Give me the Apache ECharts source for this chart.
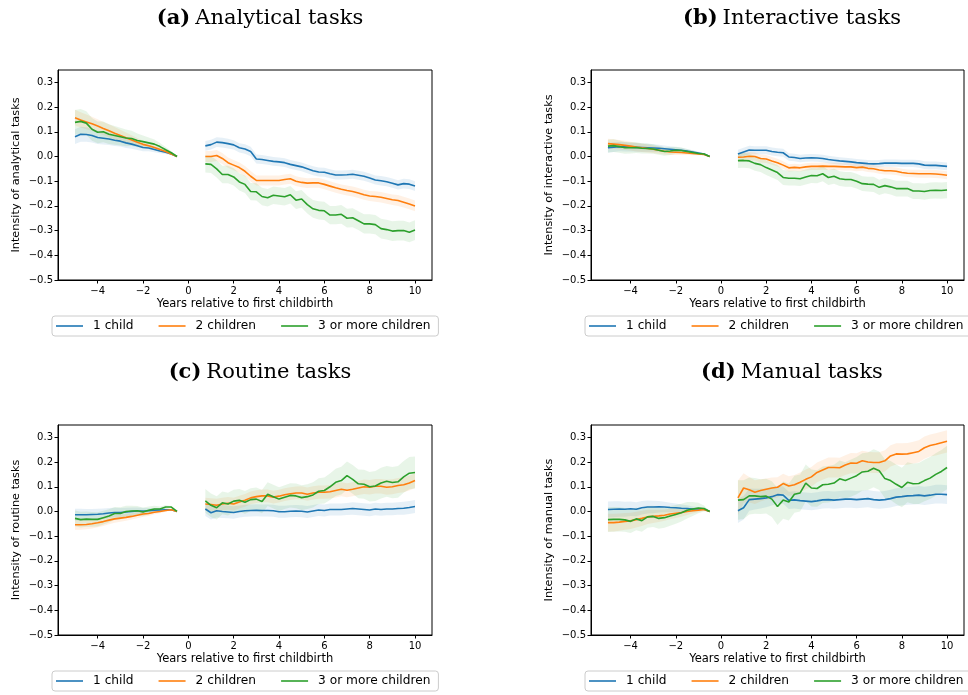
<!DOCTYPE html>
<html><head><meta charset="utf-8">
<script src="https://cdn.jsdelivr.net/npm/echarts@6/dist/echarts.min.js"></script>
<style>html,body{margin:0;padding:0;background:#fff}#c{width:968px;height:695px}</style>
</head><body><div id="c"></div><script>
// ---------- x positions (years relative to first childbirth) ----------
const xPre = [-5,-4.75,-4.5,-4.25,-4,-3.75,-3.5,-3.25,-3,-2.75,-2.5,-2.25,-2,-1.75,-1.5,-1.25,-1,-0.75,-0.5];
const xPost = [0.75,1,1.25,1.5,1.75,2,2.25,2.5,2.75,3,3.25,3.5,3.75,4,4.25,4.5,4.75,5,5.25,5.5,5.75,6,6.25,6.5,6.75,7,7.25,7.5,7.75,8,8.25,8.5,8.75,9,9.25,9.5,9.75,10];

const seriesNames = ['1 child', '2 children', '3 or more children'];
const colors = ['#1f77b4', '#ff7f0e', '#2ca02c'];
const panelLetters = ['(a)', '(b)', '(c)', '(d)'];
const panelTitles = ['Analytical tasks', 'Interactive tasks', 'Routine tasks', 'Manual tasks'];
const yNames = ['Intensity of analytical tasks', 'Intensity of interactive tasks', 'Intensity of routine tasks', 'Intensity of manual tasks'];
const xName = 'Years relative to first childbirth';
const xTicks = [-4,-2,0,2,4,6,8,10];
const yTicks = [-0.5,-0.4,-0.3,-0.2,-0.1,0,0.1,0.2,0.3];

// ---------- (a) Analytical ----------
const aPre1 = [0.08,0.09,0.089,0.085,0.077,0.074,0.071,0.066,0.062,0.055,0.05,0.043,0.036,0.034,0.028,0.022,0.017,0.01,0];
const aPre2 = [0.157,0.148,0.14,0.132,0.123,0.113,0.104,0.094,0.085,0.076,0.067,0.058,0.049,0.043,0.036,0.028,0.02,0.01,0];
const aPre3 = [0.138,0.142,0.135,0.11,0.098,0.1,0.09,0.085,0.08,0.075,0.073,0.065,0.06,0.055,0.05,0.04,0.027,0.015,0];
const aPost1 = [0.043,0.048,0.058,0.056,0.052,0.047,0.035,0.03,0.02,-0.01,-0.012,-0.016,-0.02,-0.022,-0.025,-0.032,-0.037,-0.042,-0.05,-0.058,-0.063,-0.064,-0.07,-0.075,-0.075,-0.074,-0.072,-0.076,-0.08,-0.087,-0.095,-0.098,-0.102,-0.108,-0.115,-0.11,-0.112,-0.12];
const aPost2 = [0,0,0.004,-0.008,-0.025,-0.035,-0.045,-0.06,-0.08,-0.097,-0.097,-0.097,-0.097,-0.097,-0.093,-0.09,-0.1,-0.105,-0.108,-0.107,-0.107,-0.113,-0.12,-0.127,-0.133,-0.138,-0.142,-0.148,-0.155,-0.16,-0.162,-0.165,-0.17,-0.175,-0.178,-0.185,-0.192,-0.2];
const aPost3 = [-0.03,-0.032,-0.05,-0.073,-0.073,-0.083,-0.103,-0.113,-0.142,-0.143,-0.162,-0.167,-0.157,-0.16,-0.163,-0.155,-0.177,-0.172,-0.195,-0.212,-0.218,-0.22,-0.237,-0.237,-0.234,-0.25,-0.248,-0.26,-0.273,-0.273,-0.276,-0.292,-0.296,-0.302,-0.3,-0.3,-0.307,-0.298];
// confidence half-widths
const aCiPre1 = [0.03,0.03,0.029,0.028,0.027,0.026,0.025,0.024,0.022,0.021,0.019,0.017,0.015,0.013,0.011,0.009,0.007,0.004,0];
const aCiPre2 = [0.032,0.031,0.03,0.029,0.028,0.027,0.026,0.025,0.023,0.021,0.019,0.017,0.015,0.013,0.011,0.009,0.007,0.004,0];
const aCiPre3 = [0.05,0.05,0.048,0.046,0.044,0.042,0.04,0.038,0.036,0.034,0.031,0.028,0.025,0.022,0.019,0.015,0.011,0.006,0];
const aCiPost1 = [0.02,0.02,0.02,0.02,0.02,0.019,0.019,0.019,0.019,0.018,0.018,0.018,0.018,0.018,0.018,0.018,0.018,0.018,0.018,0.018,0.018,0.018,0.018,0.018,0.018,0.018,0.018,0.018,0.018,0.018,0.018,0.019,0.019,0.019,0.019,0.02,0.02,0.02];
const aCiPost2 = [0.022,0.022,0.022,0.022,0.021,0.021,0.021,0.021,0.021,0.02,0.02,0.02,0.02,0.02,0.02,0.02,0.02,0.02,0.02,0.02,0.02,0.02,0.02,0.02,0.02,0.02,0.02,0.02,0.02,0.02,0.021,0.021,0.021,0.021,0.022,0.022,0.022,0.022];
const aCiPost3 = [0.035,0.035,0.035,0.035,0.035,0.035,0.035,0.035,0.035,0.035,0.035,0.035,0.035,0.035,0.035,0.035,0.036,0.036,0.036,0.036,0.037,0.037,0.037,0.037,0.038,0.038,0.038,0.038,0.039,0.039,0.039,0.04,0.04,0.04,0.04,0.04,0.04,0.04];

// ---------- (b) Interactive ----------
const bPre1 = [0.035,0.038,0.04,0.039,0.038,0.037,0.036,0.035,0.034,0.033,0.031,0.029,0.027,0.025,0.022,0.018,0.014,0.01,0];
const bPre2 = [0.052,0.05,0.048,0.045,0.042,0.038,0.035,0.032,0.029,0.025,0.021,0.018,0.017,0.016,0.014,0.012,0.01,0.008,0];
const bPre3 = [0.042,0.044,0.04,0.035,0.035,0.036,0.033,0.032,0.03,0.025,0.02,0.022,0.025,0.024,0.02,0.016,0.012,0.01,0];
const bPost1 = [0.01,0.018,0.026,0.025,0.025,0.025,0.02,0.017,0.015,-0.002,-0.004,-0.008,-0.006,-0.005,-0.006,-0.008,-0.012,-0.015,-0.018,-0.02,-0.022,-0.025,-0.027,-0.029,-0.03,-0.029,-0.027,-0.027,-0.027,-0.028,-0.028,-0.028,-0.03,-0.035,-0.036,-0.036,-0.038,-0.04];
const bPost2 = [-0.003,-0.002,0.001,0,-0.008,-0.01,-0.018,-0.025,-0.035,-0.046,-0.044,-0.046,-0.042,-0.04,-0.04,-0.039,-0.04,-0.04,-0.041,-0.042,-0.042,-0.045,-0.043,-0.048,-0.05,-0.055,-0.058,-0.058,-0.06,-0.065,-0.068,-0.069,-0.07,-0.07,-0.07,-0.071,-0.073,-0.076];
const bPost3 = [-0.017,-0.016,-0.018,-0.028,-0.033,-0.045,-0.055,-0.065,-0.085,-0.088,-0.088,-0.09,-0.083,-0.077,-0.078,-0.07,-0.085,-0.08,-0.09,-0.093,-0.093,-0.1,-0.11,-0.112,-0.113,-0.125,-0.118,-0.123,-0.13,-0.13,-0.13,-0.14,-0.14,-0.142,-0.138,-0.137,-0.138,-0.136];
const bCiPre1 = [0.02,0.02,0.019,0.019,0.018,0.018,0.017,0.016,0.015,0.014,0.013,0.012,0.011,0.01,0.008,0.007,0.005,0.003,0];
const bCiPre2 = [0.02,0.02,0.019,0.019,0.018,0.018,0.017,0.016,0.015,0.014,0.013,0.012,0.011,0.01,0.008,0.007,0.005,0.003,0];
const bCiPre3 = [0.026,0.026,0.025,0.024,0.023,0.022,0.021,0.02,0.019,0.018,0.017,0.016,0.014,0.012,0.01,0.008,0.006,0.003,0];
const bCiPost1 = [0.017,0.017,0.017,0.016,0.016,0.016,0.016,0.016,0.016,0.015,0.015,0.015,0.015,0.015,0.015,0.015,0.015,0.015,0.015,0.015,0.015,0.015,0.015,0.015,0.015,0.015,0.015,0.015,0.015,0.015,0.015,0.015,0.016,0.016,0.016,0.016,0.016,0.016];
const bCiPost2 = [0.017,0.017,0.017,0.016,0.016,0.016,0.016,0.016,0.016,0.015,0.015,0.015,0.015,0.015,0.015,0.015,0.015,0.015,0.015,0.015,0.015,0.015,0.015,0.015,0.015,0.015,0.015,0.015,0.015,0.015,0.015,0.015,0.016,0.016,0.016,0.016,0.016,0.016];
const bCiPost3 = [0.03,0.03,0.03,0.03,0.03,0.03,0.03,0.03,0.03,0.03,0.03,0.03,0.03,0.03,0.03,0.03,0.03,0.03,0.03,0.03,0.03,0.03,0.03,0.03,0.031,0.031,0.031,0.031,0.032,0.032,0.032,0.032,0.032,0.033,0.033,0.033,0.033,0.033];

// ---------- (c) Routine ----------
const cPre1 = [-0.013,-0.013,-0.013,-0.012,-0.011,-0.009,-0.006,-0.004,-0.004,-0.002,0,0.002,0.002,0.003,0.005,0.006,0.007,0.007,0];
const cPre2 = [-0.054,-0.054,-0.053,-0.05,-0.046,-0.041,-0.035,-0.03,-0.027,-0.024,-0.02,-0.015,-0.01,-0.008,-0.003,0,0.004,0.007,0];
const cPre3 = [-0.028,-0.033,-0.031,-0.032,-0.032,-0.025,-0.018,-0.008,-0.008,0,0.002,0.003,-0.002,0.005,0.01,0.01,0.018,0.018,0];
const cPost1 = [0.01,-0.005,0.003,0,-0.002,-0.004,0,0.003,0.004,0.005,0.004,0.004,0.003,-0.001,-0.001,0.001,0.002,0.001,-0.002,0.002,0.006,0.004,0.008,0.008,0.008,0.01,0.012,0.01,0.008,0.006,0.01,0.008,0.01,0.01,0.012,0.013,0.016,0.02];
const cPost2 = [0.03,0.028,0.025,0.03,0.033,0.03,0.038,0.045,0.055,0.06,0.063,0.063,0.058,0.062,0.068,0.072,0.075,0.075,0.07,0.075,0.078,0.078,0.08,0.085,0.09,0.086,0.09,0.095,0.1,0.098,0.102,0.102,0.098,0.1,0.105,0.108,0.115,0.125];
const cPost3 = [0.043,0.025,0.015,0.035,0.03,0.042,0.045,0.037,0.048,0.05,0.04,0.07,0.06,0.05,0.058,0.065,0.063,0.056,0.06,0.067,0.082,0.085,0.1,0.118,0.125,0.145,0.13,0.112,0.11,0.1,0.103,0.115,0.122,0.117,0.12,0.14,0.155,0.158];
const cCiPre1 = [0.024,0.024,0.023,0.022,0.022,0.021,0.02,0.019,0.018,0.017,0.016,0.014,0.013,0.011,0.009,0.008,0.006,0.003,0];
const cCiPre2 = [0.02,0.02,0.019,0.019,0.018,0.018,0.017,0.016,0.015,0.014,0.013,0.012,0.011,0.01,0.008,0.007,0.005,0.003,0];
const cCiPre3 = [0.032,0.032,0.031,0.03,0.029,0.028,0.027,0.026,0.025,0.023,0.021,0.019,0.017,0.015,0.013,0.01,0.007,0.004,0];
const cCiPost1 = [0.028,0.028,0.027,0.026,0.025,0.025,0.024,0.024,0.024,0.024,0.024,0.024,0.024,0.024,0.024,0.024,0.024,0.024,0.024,0.024,0.024,0.024,0.024,0.024,0.024,0.024,0.025,0.025,0.025,0.025,0.025,0.025,0.025,0.025,0.025,0.026,0.026,0.026];
const cCiPost2 = [0.026,0.026,0.026,0.026,0.026,0.026,0.026,0.026,0.026,0.026,0.026,0.026,0.026,0.026,0.026,0.026,0.026,0.027,0.027,0.027,0.027,0.027,0.027,0.028,0.028,0.028,0.028,0.028,0.029,0.029,0.029,0.029,0.03,0.03,0.03,0.03,0.03,0.03];
const cCiPost3 = [0.048,0.048,0.047,0.046,0.046,0.046,0.046,0.046,0.046,0.047,0.047,0.048,0.048,0.048,0.048,0.049,0.05,0.05,0.05,0.051,0.052,0.053,0.054,0.055,0.056,0.057,0.058,0.058,0.059,0.06,0.061,0.062,0.062,0.063,0.064,0.064,0.065,0.065];

// ---------- (d) Manual ----------
const dPre1 = [0.008,0.009,0.01,0.009,0.011,0.009,0.015,0.018,0.018,0.019,0.018,0.016,0.015,0.013,0.012,0.01,0.01,0.009,0];
const dPre2 = [-0.045,-0.045,-0.043,-0.04,-0.038,-0.033,-0.028,-0.022,-0.02,-0.018,-0.015,-0.01,-0.007,-0.004,0,0.003,0.005,0.008,0];
const dPre3 = [-0.033,-0.032,-0.032,-0.034,-0.04,-0.03,-0.037,-0.022,-0.02,-0.028,-0.025,-0.018,-0.012,-0.005,0.005,0.01,0.014,0.012,0];
const dPost1 = [0.003,0.015,0.048,0.05,0.052,0.055,0.06,0.068,0.066,0.045,0.047,0.044,0.042,0.04,0.043,0.047,0.048,0.046,0.048,0.05,0.05,0.048,0.05,0.052,0.048,0.046,0.048,0.052,0.058,0.06,0.063,0.064,0.066,0.063,0.066,0.07,0.07,0.068];
const dPost2 = [0.055,0.095,0.088,0.078,0.085,0.09,0.095,0.098,0.113,0.103,0.108,0.118,0.13,0.14,0.158,0.168,0.178,0.178,0.177,0.188,0.196,0.195,0.205,0.2,0.198,0.198,0.205,0.225,0.233,0.232,0.233,0.238,0.243,0.258,0.267,0.272,0.278,0.284];
const dPost3 = [0.046,0.048,0.063,0.063,0.06,0.062,0.05,0.02,0.046,0.038,0.07,0.075,0.115,0.095,0.093,0.108,0.11,0.115,0.132,0.125,0.135,0.145,0.16,0.163,0.175,0.165,0.133,0.125,0.11,0.097,0.118,0.112,0.113,0.125,0.135,0.15,0.162,0.178];
const dCiPre1 = [0.032,0.032,0.031,0.03,0.029,0.028,0.027,0.026,0.025,0.023,0.021,0.019,0.017,0.015,0.013,0.01,0.007,0.004,0];
const dCiPre2 = [0.036,0.036,0.035,0.034,0.033,0.032,0.031,0.029,0.027,0.025,0.023,0.021,0.019,0.017,0.014,0.011,0.008,0.004,0];
const dCiPre3 = [0.05,0.05,0.049,0.048,0.047,0.046,0.045,0.044,0.043,0.042,0.041,0.04,0.038,0.036,0.033,0.028,0.021,0.012,0];
const dCiPost1 = [0.05,0.048,0.045,0.042,0.04,0.038,0.036,0.036,0.035,0.035,0.035,0.035,0.035,0.035,0.035,0.035,0.035,0.035,0.035,0.035,0.035,0.035,0.035,0.035,0.035,0.035,0.035,0.036,0.036,0.036,0.036,0.036,0.037,0.037,0.037,0.038,0.038,0.038];
const dCiPost2 = [0.07,0.06,0.052,0.048,0.045,0.043,0.042,0.041,0.04,0.04,0.04,0.04,0.04,0.04,0.04,0.04,0.04,0.04,0.04,0.04,0.041,0.041,0.041,0.042,0.042,0.042,0.043,0.043,0.043,0.044,0.044,0.044,0.045,0.045,0.045,0.045,0.045,0.045];
const dCiPost3 = [0.08,0.078,0.075,0.072,0.07,0.07,0.072,0.075,0.075,0.075,0.075,0.075,0.075,0.075,0.074,0.074,0.074,0.074,0.074,0.074,0.075,0.075,0.076,0.076,0.077,0.078,0.078,0.079,0.08,0.08,0.081,0.082,0.083,0.084,0.085,0.086,0.087,0.088];

const panelData = [
  {pre:[aPre1,aPre2,aPre3], post:[aPost1,aPost2,aPost3], ciPre:[aCiPre1,aCiPre2,aCiPre3], ciPost:[aCiPost1,aCiPost2,aCiPost3]},
  {pre:[bPre1,bPre2,bPre3], post:[bPost1,bPost2,bPost3], ciPre:[bCiPre1,bCiPre2,bCiPre3], ciPost:[bCiPost1,bCiPost2,bCiPost3]},
  {pre:[cPre1,cPre2,cPre3], post:[cPost1,cPost2,cPost3], ciPre:[cCiPre1,cCiPre2,cCiPre3], ciPost:[cCiPost1,cCiPost2,cCiPost3]},
  {pre:[dPre1,dPre2,dPre3], post:[dPost1,dPost2,dPost3], ciPre:[dCiPre1,dCiPre2,dCiPre3], ciPost:[dCiPost1,dCiPost2,dCiPost3]}
];

// ---------- layout ----------
const gridBoxes = [
  {left:58, top:70, width:374, height:210},
  {left:591, top:70, width:373, height:210},
  {left:58, top:425, width:374, height:210},
  {left:591, top:425, width:373, height:210}
];
const titleCenters = [[260,8],[792,8],[260,362],[792,362]];
const FONT = 'DejaVu Sans';
const TFONT = 'DejaVu Serif';
const minus = v => String(v).replace('-', '\u2212');

function bandSeries(gi, xs, ys, ci, color) {
  const data = xs.map((x, k) => [x, ys[k] - ci[k], ys[k] + ci[k]]);
  return {
    type: 'custom', xAxisIndex: gi, yAxisIndex: gi, data: data, silent: true, z: 1,
    encode: {x: 0, y: [1, 2]},
    renderItem: function (params, api) {
      if (params.dataIndex !== 0) return null;
      const up = data.map(d => api.coord([d[0], d[2]]));
      const lo = data.map(d => api.coord([d[0], d[1]])).reverse();
      return {type: 'polygon', shape: {points: up.concat(lo)}, style: {fill: color, opacity: 0.11}};
    }
  };
}
function lineSeries(gi, name, xs, ys, color) {
  return {
    type: 'line', name: name, xAxisIndex: gi, yAxisIndex: gi,
    data: xs.map((x, k) => [x, ys[k]]), symbol: 'none', showSymbol: false, z: 3,
    lineStyle: {width: 1.6, color: color}, itemStyle: {color: color}
  };
}

const series = [];
panelData.forEach((p, gi) => {
  for (let s = 0; s < 3; s++) {
    series.push(bandSeries(gi, xPre, p.pre[s], p.ciPre[s], colors[s]));
    series.push(bandSeries(gi, xPost, p.post[s], p.ciPost[s], colors[s]));
  }
  for (let s = 0; s < 3; s++) {
    series.push(lineSeries(gi, seriesNames[s], xPre, p.pre[s], colors[s]));
    series.push(lineSeries(gi, seriesNames[s], xPost, p.post[s], colors[s]));
  }
});

const option = {
  animation: false,
  backgroundColor: '#fff',
  title: panelTitles.map((t, i) => ({
    text: '{b|' + panelLetters[i] + '} {n|' + t + '}',
    left: titleCenters[i][0], top: titleCenters[i][1], textAlign: 'center', padding: 0,
    textStyle: {fontWeight: 'normal', rich: {
      b: {fontFamily: TFONT, fontWeight: 'bold', fontSize: 21, color: '#000'},
      n: {fontFamily: TFONT, fontWeight: 'normal', fontSize: 21, color: '#000'}
    }}
  })),
  grid: gridBoxes.map(g => Object.assign({show: true, borderColor: '#000', borderWidth: 1, backgroundColor: 'transparent'}, g)),
  legend: gridBoxes.map((g, i) => ({
    data: seriesNames, left: g.left - 6, top: g.top + g.height + 36, width: 420,
    orient: 'horizontal', icon: 'rect', itemWidth: 27, itemHeight: 1.6, itemGap: 25,
    padding: [4, 8, 4, 4], borderColor: '#ccc', borderWidth: 1, borderRadius: 3,
    textStyle: {fontFamily: FONT, fontSize: 12.2, color: '#000', padding: [0, 0, 0, 5]},
    selectedMode: false
  })),
  xAxis: gridBoxes.map((g, i) => ({
    type: 'value', gridIndex: i, min: -5.75, max: 10.75,
    name: xName, nameLocation: 'middle', nameGap: 18,
    nameTextStyle: {fontFamily: FONT, fontSize: 11.5, color: '#000'},
    axisLine: {show: true, onZero: false, lineStyle: {color: '#000', width: 1}},
    axisTick: {show: true, length: 3.5, customValues: xTicks, lineStyle: {color: '#000'}},
    axisLabel: {customValues: xTicks, fontFamily: FONT, fontSize: 10, color: '#000', margin: 6, formatter: minus},
    splitLine: {show: false}
  })),
  yAxis: gridBoxes.map((g, i) => ({
    type: 'value', gridIndex: i, min: -0.5, max: 0.35,
    name: yNames[i], nameLocation: 'middle', nameGap: 36,
    nameTextStyle: {fontFamily: FONT, fontSize: 11.3, color: '#000'},
    axisLine: {show: true, onZero: false, lineStyle: {color: '#000', width: 1}},
    axisTick: {show: true, length: 3.5, customValues: yTicks, lineStyle: {color: '#000'}},
    axisLabel: {customValues: yTicks, fontFamily: FONT, fontSize: 10, color: '#000', margin: 5,
      formatter: v => minus(Number(v).toFixed(1))},
    splitLine: {show: false}
  })),
  series: series
};

const chart = echarts.init(document.getElementById('c'), null, {renderer: 'canvas'});
chart.setOption(option);
</script></body></html>
